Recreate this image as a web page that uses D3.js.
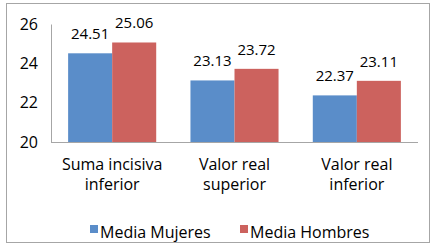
<!DOCTYPE html>
<html>
<head>
<meta charset="utf-8">
<script src="https://cdn.jsdelivr.net/npm/d3@7"></script>
<style>
  body { margin: 0; background: #fff; }
  text { font-family: "Open Sans", sans-serif; fill: #000; }
</style>
</head>
<body>
<div id="chart"></div>
<script>
// 資料
var categories = [['Suma incisiva', 'inferior'], ['Valor real', 'superior'], ['Valor real', 'inferior']];
var seriesNames = ['Media Mujeres', 'Media Hombres'];
var mujeres = [24.51, 23.13, 22.37];
var hombres = [25.06, 23.72, 23.11];
var yTicks = [20, 22, 24, 26];
var colors = ['#5a8dc9', '#cc625e'];

const width = 433, height = 245;
const margin = {top: 24, right: 15, bottom: 103, left: 51};

var svg = d3.select('#chart').append('svg')
  .attr('width', width)
  .attr('height', height);

// 外框
svg.append('rect')
  .attr('x', 6.5).attr('y', 3.5)
  .attr('width', 423).attr('height', 239)
  .attr('fill', '#fff')
  .attr('stroke', '#a6a6a6');

var x = d3.scaleBand()
  .domain(d3.range(categories.length))
  .range([margin.left, width - margin.right])
  .paddingInner(0.28)
  .paddingOuter(0.14);
var x1 = d3.scaleBand()
  .domain(d3.range(seriesNames.length))
  .range([0, x.bandwidth()]);
var y = d3.scaleLinear()
  .domain([20, 26])
  .range([height - margin.bottom, margin.top]);

// y軸
var yAxis = svg.append('g')
  .attr('transform', `translate(${margin.left},0)`)
  .call(d3.axisLeft(y).tickValues(yTicks).tickFormat(d3.format('d')).tickSize(0).tickPadding(13));
yAxis.select('.domain').attr('stroke', '#a6a6a6');
yAxis.selectAll('text').style('font-size', '16px').style('font-family', '"Open Sans", sans-serif');

// x軸
svg.append('line')
  .attr('x1', margin.left).attr('x2', width - margin.right)
  .attr('y1', y(20) + 0.5).attr('y2', y(20) + 0.5)
  .attr('stroke', '#a6a6a6');

var data = [];
categories.forEach(function(c, i) {
  data.push({cat: i, s: 0, value: mujeres[i]});
  data.push({cat: i, s: 1, value: hombres[i]});
});

// 畫bar
svg.selectAll('rect.bar')
  .data(data)
  .enter()
  .append('rect')
  .attr('class', 'bar')
  .attr('x', d => x(d.cat) + x1(d.s))
  .attr('y', d => y(d.value))
  .attr('width', x1.bandwidth())
  .attr('height', d => y(20) - y(d.value))
  .style('fill', d => colors[d.s]);

// 數值
svg.selectAll('text.valueLabel')
  .data(data)
  .enter()
  .append('text')
  .attr('class', 'valueLabel')
  .attr('x', d => x(d.cat) + x1(d.s) + x1.bandwidth() / 2)
  .attr('y', d => y(d.value) - 14)
  .style('text-anchor', 'middle')
  .style('font-size', '15px')
  .text(d => d3.format('.2f')(d.value));

// 類別名稱
var catLabels = svg.selectAll('text.catLabel')
  .data(categories)
  .enter()
  .append('text')
  .attr('class', 'catLabel')
  .attr('x', (d, i) => x(i) + x.bandwidth() / 2)
  .attr('y', y(20) + 28)
  .style('text-anchor', 'middle')
  .style('font-size', '16px');
catLabels.selectAll('tspan')
  .data(d => d)
  .enter()
  .append('tspan')
  .attr('x', function() { return this.parentNode.getAttribute('x'); })
  .attr('dy', (d, i) => i == 0 ? 0 : 20)
  .text(d => d);

// 圖例
var legendX = [90, 240];
var legend = svg.selectAll('g.legend')
  .data(seriesNames)
  .enter()
  .append('g')
  .attr('class', 'legend')
  .attr('transform', (d, i) => `translate(${legendX[i]},225)`);
legend.append('rect')
  .attr('width', 8).attr('height', 8)
  .style('fill', (d, i) => colors[i]);
legend.append('text')
  .attr('x', 10)
  .attr('y', 13)
  .style('font-size', '16px')
  .text(d => d);
</script>
</body>
</html>
